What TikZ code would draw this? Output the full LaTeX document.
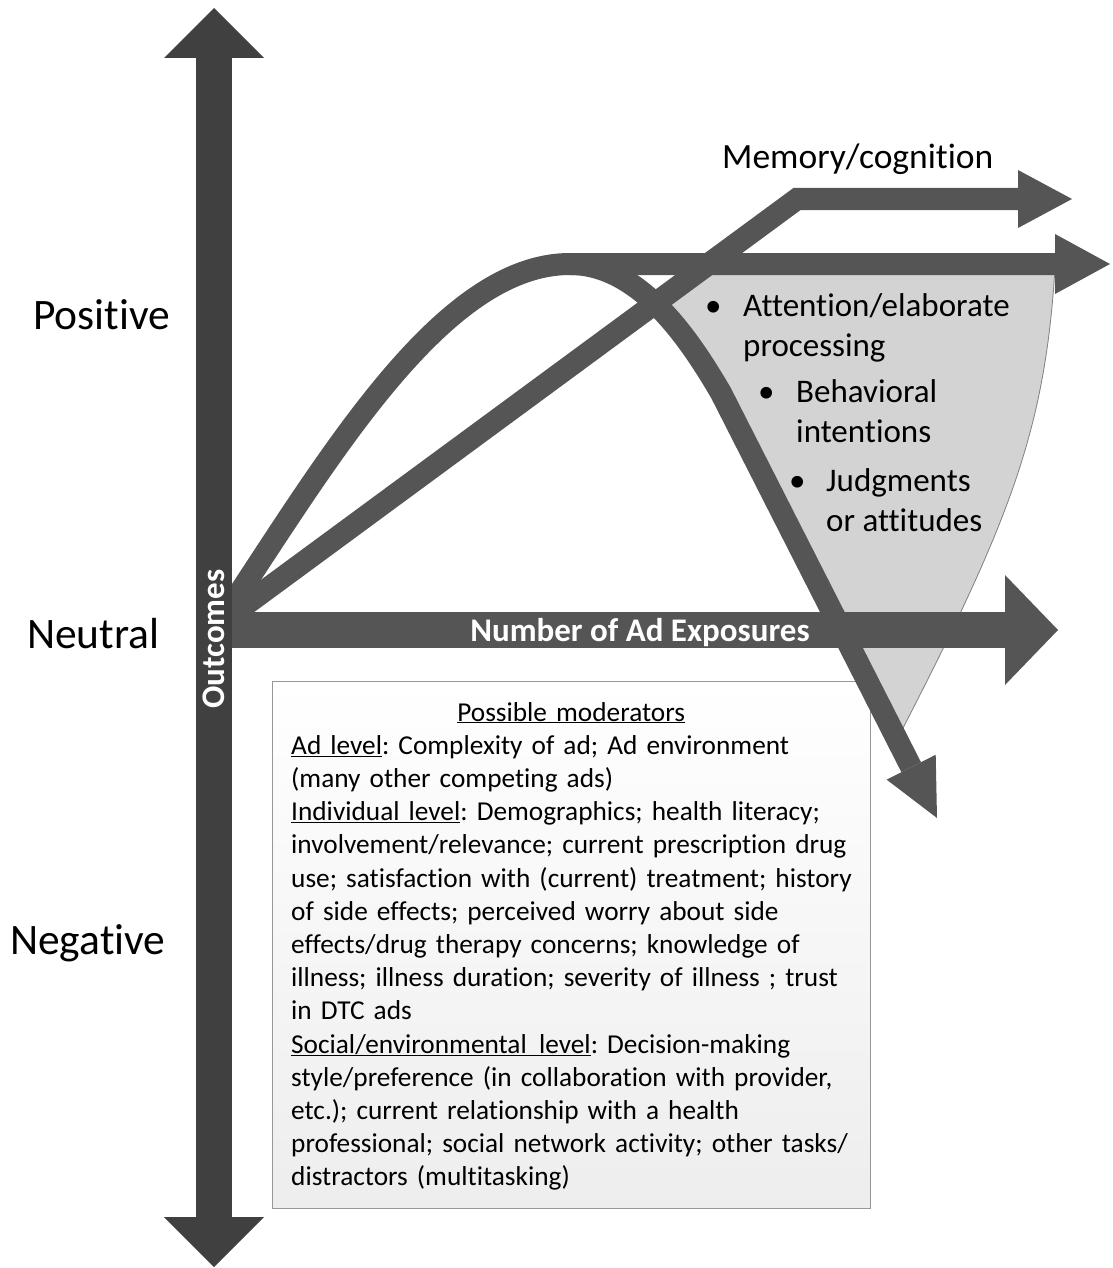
\documentclass[tikz,border=0pt]{standalone}
\usepackage{fontspec}
\setmainfont{Carlito}[Ligatures=NoCommon]
\usetikzlibrary{arrows.meta}
\definecolor{axisgray}{HTML}{404040}
\definecolor{curvegray}{HTML}{555555}
\definecolor{regiongray}{HTML}{D3D3D3}
\definecolor{boxborder}{HTML}{979797}
\frenchspacing

\begin{document}
\begin{tikzpicture}[x=1pt,y=-1pt,
    axis/.style={draw=axisgray, line width=36pt},
    curve/.style={draw=curvegray, line width=22pt},
    level/.style={anchor=base west, inner sep=0pt, font=\fontsize{43.5}{52}\selectfont},
    item/.style={anchor=base west, align=left, inner sep=0pt, font=\fontsize{33}{40}\selectfont},
    onbar/.style={anchor=base, inner sep=0pt, text=white, font=\bfseries\fontsize{33}{40}\selectfont}]
    \useasboundingbox (0,0) rectangle (1112,1268);

    \coordinate (vtop) at (214,8);
    \coordinate (vbottom) at (214,1267);
    \coordinate (hstart) at (214,630);
    \coordinate (htip) at (1058,630);
    \coordinate (memstart) at (214,628);
    \coordinate (memcorner) at (797,199);
    \coordinate (memtip) at (1072,199);
    \coordinate (bellstart) at (220,622);
    \coordinate (peak) at (570,264);
    \coordinate (platip) at (1110,264);
    \coordinate (bend) at (721,393);
    \coordinate (downtip) at (937,818);

    \filldraw[fill=regiongray, draw=gray, line width=0.8pt] (697,268) -- (1055,268)
        .. controls (1045,430) and (1010,520) .. (902,730) -- (bend) -- (655,303) -- cycle;

    \node (modbox) [anchor=north west, draw=boxborder, line width=1.2pt, top color=white, bottom color=gray!14,
        minimum width=598pt, minimum height=527pt] at (272,681) {};
    \node (modtext) [anchor=base west, align=left, inner sep=0pt, text width=620pt,
        font=\fontsize{27.3}{33.2}\selectfont] at (291,721) {%
        \makebox[560pt]{\underline{Possible moderators}}\\
        \underline{Ad level}: Complexity of ad; Ad environment\\
        (many other competing ads)\\
        \underline{Individual level}: Demographics; health literacy;\\
        involvement/relevance; current prescription drug\\
        use; satisfaction with (current) treatment; history\\
        of side effects; perceived worry about side\\
        effects/drug therapy concerns; knowledge of\\
        illness; illness duration; severity of illness ; trust\\
        in DTC ads\\
        \underline{Social/environmental\hspace{0.45em}level}: Decision-making\\
        style/preference (in collaboration with provider,\\
        etc.); current relationship with a health\\
        professional; social network activity; other tasks/\\
        distractors (multitasking)};

    \draw[axis, draw=curvegray, -{Triangle[length=53pt,width=110pt,line width=0pt]}] (hstart) -- (htip);
    \draw[curve, -{Triangle[length=54pt,width=58pt,line width=0pt]}] (memstart) -- (memcorner) -- (memtip);
    \draw[curve, -{Triangle[length=55pt,width=60pt,line width=0pt]}] (bellstart)
        .. controls (325,465) and (440,264) .. (peak) -- (platip);
    \draw[curve, -{Triangle[length=57pt,width=55pt,line width=0pt]}] (peak)
        .. controls (640,264) and (690,340) .. (bend) -- (downtip);
    \draw[axis, {Triangle[length=50pt,width=100pt,line width=0pt]}-{Triangle[length=50pt,width=100pt,line width=0pt]}] (vtop) -- (vbottom);

    \node (outcomes) [onbar, rotate=90] at (224,639) {Outcomes};
    \node (exposures) [onbar] at (640,641) {Number of Ad Exposures};

    \node (positive) [level] at (33,329) {Positive};
    \node (neutral) [level] at (27,648) {Neutral};
    \node (negative) [level] at (10,954) {Negative};

    \node (memory) [anchor=base west, inner sep=0pt, font=\fontsize{35.5}{42}\selectfont] at (722,169) {Memory/cognition};
    \node (attention) [item] at (705,356) {\makebox[38pt][l]{\textbullet}Attention/elaborate\\\hspace*{38pt}processing};
    \node (behavior) [item] at (758,442) {\makebox[38pt][l]{\textbullet}Behavioral\\\hspace*{38pt}intentions};
    \node (judgment) [item] at (789,531) {\makebox[37pt][l]{\textbullet}Judgments\\\hspace*{37pt}or attitudes};
\end{tikzpicture}
\end{document}
